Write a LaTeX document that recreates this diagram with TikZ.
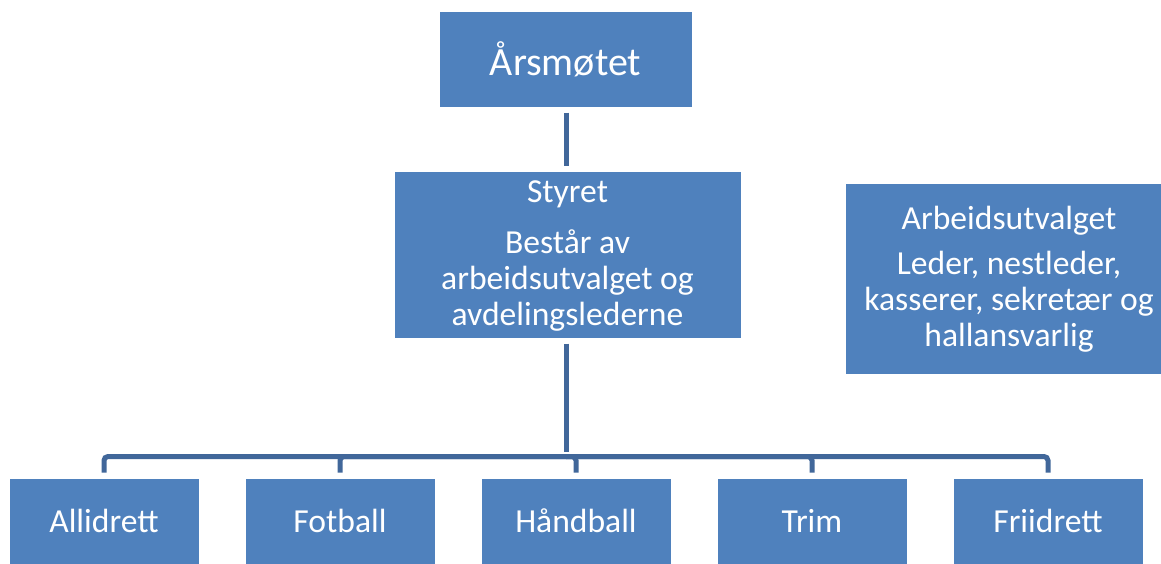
\documentclass[tikz,border=0pt]{standalone}
\usepackage{fontspec}
\setmainfont{Carlito}
\definecolor{boxblue}{HTML}{4F81BD}
\definecolor{connblue}{HTML}{41679A}
\tikzset{
  orgbox/.style={fill=boxblue, draw=white, line width=1pt, text=white, inner sep=0pt,
    align=center, font=\fontsize{33.6}{36}\selectfont},
  conn/.style={draw=connblue, line width=5pt, rounded corners=4pt, shorten <=5pt, shorten >=5pt},
}
\begin{document}
\begin{tikzpicture}[x=1pt,y=-1pt]
\useasboundingbox (0,0) rectangle (1161,563);
\fill[white] (0,0) rectangle (1161,563);
% boxes
\node[orgbox, minimum width=253, minimum height=96, font=\fontsize{40}{44}\selectfont] (aars) at (565.5,59) {Årsmøtet};
\node[orgbox, minimum width=347, minimum height=167] (styret) at (567.5,254.5) {};
\node[text=white, align=center, font=\fontsize{33.6}{36}\selectfont, inner sep=0pt] (styrettxt) at (567.5,255.5)
  {Styret\\[15pt]Består av\\arbeidsutvalget og\\avdelingslederne};
\node[orgbox, minimum width=328, minimum height=191] (au) at (1009,278.5) {};
\node[text=white, align=center, font=\fontsize{33.6}{36}\selectfont, inner sep=0pt] (autxt) at (1009,279)
  {Arbeidsutvalget\\[9pt]Leder, nestleder,\\kasserer, sekretær og\\hallansvarlig};
\node[orgbox, minimum width=190, minimum height=86] (b1) at (104,521) {Allidrett};
\node[orgbox, minimum width=190, minimum height=86] (b2) at (340,521) {Fotball};
\node[orgbox, minimum width=190, minimum height=86] (b3) at (576,521) {Håndball};
\node[orgbox, minimum width=190, minimum height=86] (b4) at (812,521) {Trim};
\node[orgbox, minimum width=190, minimum height=86] (b5) at (1048,521) {Friidrett};
% connectors
\coordinate (hub) at (566,456.5);
\draw[conn] (aars.south -| hub) -- (styret.north -| hub);
\draw[conn] (styret.south -| hub) -- (hub);
\draw[conn, shorten <=0pt] (hub) -| (b1.north);
\draw[conn, shorten <=0pt] (hub) -| (b2.north);
\draw[conn, shorten <=0pt] (hub) -| (b3.north);
\draw[conn, shorten <=0pt] (hub) -| (b4.north);
\draw[conn, shorten <=0pt] (hub) -| (b5.north);
\end{tikzpicture}
\end{document}
